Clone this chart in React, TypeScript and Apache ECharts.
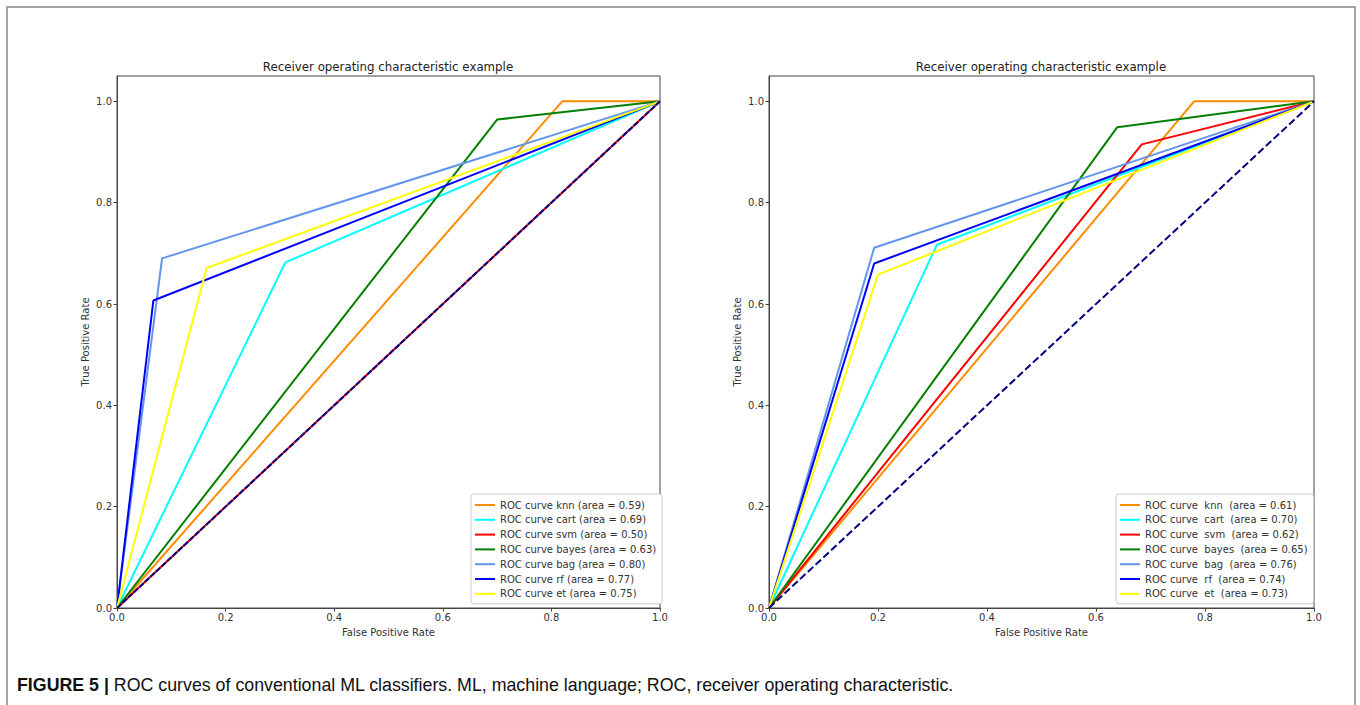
import React, { useEffect, useRef } from "react";
import * as echarts from "echarts";

const classifiers = ["knn", "cart", "svm", "bayes", "bag", "rf", "et"];
const colors = ["#ff8c00", "#00ffff", "#ff0000", "#008000", "#6495ed", "#0000ff", "#ffff00"];

const leftAuc = ["0.59", "0.69", "0.50", "0.63", "0.80", "0.77", "0.75"];
const leftFpr = [[0, 0.82, 1], [0, 0.31, 1], [0, 1], [0, 0.70, 1], [0, 0.083, 1], [0, 0.067, 1], [0, 0.165, 1]];
const leftTpr = [[0, 1, 1], [0, 0.682, 1], [0, 1], [0, 0.964, 1], [0, 0.69, 1], [0, 0.607, 1], [0, 0.671, 1]];

const rightAuc = ["0.61", "0.70", "0.62", "0.65", "0.76", "0.74", "0.73"];
const rightFpr = [[0, 0.78, 1], [0, 0.308, 1], [0, 0.684, 1], [0, 0.639, 1], [0, 0.193, 1], [0, 0.193, 1], [0, 0.2, 1]];
const rightTpr = [[0, 1, 1], [0, 0.717, 1], [0, 0.915, 1], [0, 0.949, 1], [0, 0.711, 1], [0, 0.68, 1], [0, 0.658, 1]];

const diagonal = [[0, 0], [1, 1]];
const tickValues = [0, 0.2, 0.4, 0.6, 0.8, 1.0];

const titleText = "Receiver operating characteristic example";
const xName = "False Positive Rate";
const yName = "True Positive Rate";

const FONT = "DejaVu Sans";

export default function App() {
  const ref = useRef<HTMLDivElement>(null);
  useEffect(() => {
    const chart = echarts.init(ref.current!, null, { renderer: "svg" });

    const leftNames = classifiers.map((c, i) => `ROC curve ${c} (area = ${leftAuc[i]})`);
    const rightNames = classifiers.map((c, i) => `ROC curve  ${c}  (area = ${rightAuc[i]})`);

    const grids = [
      { left: 117, top: 76, width: 543, height: 532 },
      { left: 769, top: 76, width: 545, height: 532 },
    ].map((g) => ({ ...g, show: true, borderColor: "#444", borderWidth: 1, backgroundColor: "#fff" }));

    const mkX = (gi: number) => ({
      type: "value",
      gridIndex: gi,
      min: 0,
      max: 1,
      interval: 0.2,
      name: xName,
      nameLocation: "middle",
      nameGap: 19,
      nameTextStyle: { fontFamily: FONT, fontSize: 10, color: "#333" },
      axisLine: { show: true, lineStyle: { color: "#444", width: 1 } },
      axisTick: { show: true, length: 3.5, lineStyle: { color: "#444" }, customValues: tickValues },
      axisLabel: {
        fontFamily: FONT,
        fontSize: 10,
        color: "#333",
        margin: 4,
        customValues: tickValues,
        formatter: (v: number) => v.toFixed(1),
      },
      splitLine: { show: false },
    });
    const mkY = (gi: number) => ({
      type: "value",
      gridIndex: gi,
      min: 0,
      max: 1.05,
      interval: 0.2,
      name: yName,
      nameLocation: "middle",
      nameGap: 27,
      nameTextStyle: { fontFamily: FONT, fontSize: 10, color: "#333" },
      axisLine: { show: true, lineStyle: { color: "#444", width: 1 } },
      axisTick: { show: true, length: 3.5, lineStyle: { color: "#444" }, customValues: tickValues },
      axisLabel: {
        fontFamily: FONT,
        fontSize: 10,
        color: "#333",
        margin: 5,
        customValues: tickValues,
        formatter: (v: number) => v.toFixed(1),
      },
      splitLine: { show: false },
    });

    const series: any[] = [];
    const addSet = (gi: number, names: string[], fpr: number[][], tpr: number[][], dash: number[]) => {
      names.forEach((n, i) => {
        series.push({
          type: "line",
          name: n,
          xAxisIndex: gi,
          yAxisIndex: gi,
          data: fpr[i].map((x, k) => [x, tpr[i][k]]),
          symbol: "none",
          lineStyle: { color: colors[i], width: 2 },
          itemStyle: { color: colors[i] },
        });
      });
      series.push({
        type: "line",
        name: "diag" + gi,
        xAxisIndex: gi,
        yAxisIndex: gi,
        data: diagonal,
        symbol: "none",
        lineStyle: { color: "#000080", width: 2, type: dash },
        itemStyle: { color: "#000080" },
      });
    };
    addSet(0, leftNames, leftFpr, leftTpr, [6, 1.6]);
    addSet(1, rightNames, rightFpr, rightTpr, [7.4, 3.2]);

    const mkLegend = (names: string[], left: number) => ({
      data: names,
      orient: "vertical",
      left,
      top: 494,
      padding: [5, 6, 4, 4],
      itemWidth: 20,
      itemHeight: 2,
      itemGap: 2.8,
      icon: "rect",
      backgroundColor: "#fff",
      borderColor: "#ccc",
      borderWidth: 1,
      borderRadius: 3,
      selectedMode: false,
      textStyle: { fontFamily: FONT, fontSize: 10, color: "#333", lineHeight: 12 },
    });

    const titleStyle = { fontFamily: FONT, fontSize: 11.8, fontWeight: "normal", color: "#222" };

    chart.setOption({
      animation: false,
      backgroundColor: "#fff",
      title: [
        { text: titleText, left: 388, top: 61, textAlign: "center", padding: 0, textStyle: titleStyle },
        { text: titleText, left: 1041, top: 61, textAlign: "center", padding: 0, textStyle: titleStyle },
      ],
      grid: grids,
      xAxis: [mkX(0), mkX(1)],
      yAxis: [mkY(0), mkY(1)],
      legend: [mkLegend(leftNames, 471), mkLegend(rightNames, 1116)],
      series,
      graphic: [
        {
          type: "rect",
          shape: { x: 7, y: 7, width: 1348, height: 720 },
          style: { fill: "none", stroke: "#888", lineWidth: 1.5 },
          silent: true,
        },
        {
          type: "text",
          x: 17,
          y: 685,
          style: {
            text: "{b|FIGURE 5 |} ROC curves of conventional ML classifiers. ML, machine language; ROC, receiver operating characteristic.",
            fontFamily: "Liberation Sans",
            fontSize: 17.8,
            fill: "#111",
            verticalAlign: "middle",
            rich: {
              b: { fontFamily: "Liberation Sans", fontSize: 17.8, fontWeight: "bold", fill: "#111" },
            },
          },
        },
      ],
    });
    return () => chart.dispose();
  }, []);
  return <div ref={ref} style={{ position: "fixed", left: 0, top: 0, width: 1360, height: 705 }} />;
}
